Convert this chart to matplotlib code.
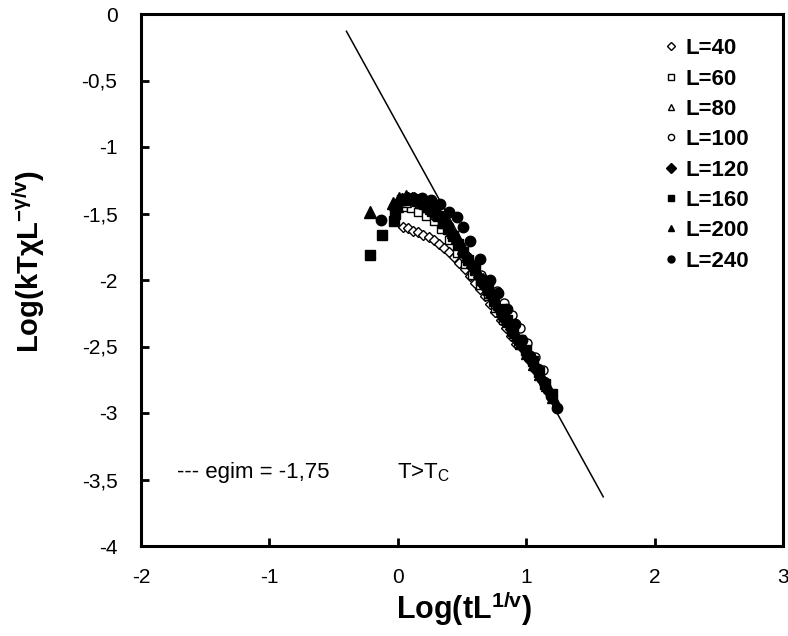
import matplotlib
matplotlib.use("Agg")
import matplotlib.pyplot as plt
from matplotlib.ticker import FixedLocator, FixedFormatter
from matplotlib.lines import Line2D

plt.rcParams['font.family'] = ['Liberation Sans', 'DejaVu Sans']
plt.rcParams['mathtext.fontset'] = 'custom'
plt.rcParams['mathtext.rm'] = 'Liberation Sans'
plt.rcParams['mathtext.it'] = 'Liberation Sans'
plt.rcParams['mathtext.bf'] = 'Liberation Sans:bold'

# ---------------- data ----------------
L40_x = [0.04, 0.08, 0.12, 0.16, 0.20, 0.24, 0.28, 0.32, 0.36, 0.40, 0.44, 0.48, 0.52, 0.56, 0.60, 0.64, 0.68, 0.72, 0.76, 0.80, 0.84, 0.88, 0.92]
L40_y = [-1.60, -1.61, -1.63, -1.64, -1.66, -1.68, -1.70, -1.73, -1.76, -1.79, -1.83, -1.87, -1.92, -1.97, -2.02, -2.07, -2.12, -2.18, -2.24, -2.30, -2.36, -2.42, -2.48]

L60_x = [-0.02, 0.04, 0.10, 0.16, 0.22, 0.28, 0.34, 0.40, 0.46, 0.52, 0.58, 0.64, 0.70, 0.76, 0.82, 0.88, 0.94, 1.00]
L60_y = [-1.50, -1.45, -1.46, -1.49, -1.52, -1.56, -1.62, -1.70, -1.80, -1.88, -1.96, -2.04, -2.12, -2.21, -2.30, -2.38, -2.47, -2.56]

L80_x = [0.00, 0.06, 0.12, 0.18, 0.24, 0.30, 0.36, 0.42, 0.48, 0.54, 0.60, 0.66, 0.72, 0.78, 0.84, 0.90, 0.96, 1.02, 1.08]
L80_y = [-1.45, -1.41, -1.40, -1.42, -1.45, -1.50, -1.57, -1.65, -1.74, -1.83, -1.92, -2.01, -2.10, -2.19, -2.28, -2.37, -2.46, -2.55, -2.64]

L100_x = [-0.01, 0.05, 0.11, 0.17, 0.23, 0.29, 0.35, 0.41, 0.47, 0.53, 0.59, 0.65, 0.71, 0.77, 0.83, 0.89, 0.95, 1.01, 1.07, 1.13]
L100_y = [-1.42, -1.39, -1.39, -1.41, -1.44, -1.49, -1.56, -1.64, -1.73, -1.82, -1.90, -1.96, -2.01, -2.08, -2.17, -2.26, -2.36, -2.47, -2.58, -2.68]

L120_x = [-0.02, 0.03, 0.08, 0.13, 0.18, 0.23, 0.28, 0.33, 0.38, 0.43, 0.48, 0.53, 0.58, 0.63, 0.68, 0.73, 0.78, 0.83, 0.88, 0.93, 0.98, 1.03, 1.08, 1.13, 1.18]
L120_y = [-1.45, -1.39, -1.38, -1.38, -1.40, -1.43, -1.47, -1.52, -1.58, -1.66, -1.74, -1.82, -1.90, -1.98, -2.05, -2.13, -2.21, -2.29, -2.37, -2.45, -2.52, -2.60, -2.68, -2.76, -2.84]

L160_x = [-0.22, -0.12, -0.03, -0.02, -0.01, 0.03, 0.07, 0.11, 0.15, 0.19, 0.23, 0.27, 0.31, 0.35, 0.39, 0.43, 0.47, 0.51, 0.55, 0.60, 0.65, 0.70, 0.75, 0.80, 0.85, 0.90, 0.95, 1.00, 1.05, 1.10, 1.15, 1.20]
L160_y = [-1.81, -1.66, -1.56, -1.50, -1.44, -1.40, -1.39, -1.39, -1.40, -1.42, -1.45, -1.48, -1.52, -1.57, -1.62, -1.67, -1.73, -1.79, -1.85, -1.92, -2.00, -2.07, -2.15, -2.22, -2.30, -2.38, -2.45, -2.53, -2.61, -2.69, -2.78, -2.86]

L200_x = [-0.22, -0.04, 0.01, 0.06, 0.11, 0.16, 0.21, 0.26, 0.31, 0.36, 0.41, 0.46, 0.51, 0.56, 0.61, 0.66, 0.71, 0.76, 0.81, 0.86, 0.91, 0.96, 1.01, 1.06, 1.11, 1.16, 1.21]
L200_y = [-1.49, -1.42, -1.38, -1.37, -1.38, -1.40, -1.42, -1.46, -1.50, -1.55, -1.61, -1.68, -1.76, -1.84, -1.92, -1.99, -2.07, -2.15, -2.23, -2.31, -2.39, -2.47, -2.55, -2.63, -2.71, -2.79, -2.88]

L240_x = [-0.13, -0.03, 0.05, 0.12, 0.19, 0.26, 0.33, 0.40, 0.46, 0.51, 0.56, 0.64, 0.72, 0.78, 0.85, 0.91, 0.97, 1.03, 1.09, 1.14, 1.19, 1.24]
L240_y = [-1.55, -1.45, -1.40, -1.38, -1.38, -1.40, -1.43, -1.49, -1.53, -1.60, -1.71, -1.84, -2.00, -2.10, -2.22, -2.33, -2.45, -2.57, -2.67, -2.77, -2.87, -2.96]

fit_x = [-0.40, 1.60]
fit_slope = -1.75
fit_intercept = -0.83

x_ticks = [-2, -1, 0, 1, 2, 3]
x_tick_labels = ["-2", "-1", "0", "1", "2", "3"]
y_ticks = [0, -0.5, -1, -1.5, -2, -2.5, -3, -3.5, -4]
y_tick_labels = ["0", "-0,5", "-1", "-1,5", "-2", "-2,5", "-3", "-3,5", "-4"]

# ---------------- figure ----------------
fig = plt.figure(figsize=(7.88, 6.36), dpi=100)
ax = fig.add_axes([141/788, 1 - 546/636, (783 - 141)/788, (546 - 14)/636])

fit_y = [fit_slope * v + fit_intercept for v in fit_x]
ax.plot(fit_x, fit_y, color='black', lw=1.1, zorder=1)

series = [
    ("L=40", L40_x, L40_y, 'D', 'white', 5.5),
    ("L=60", L60_x, L60_y, 's', 'white', 5.5),
    ("L=80", L80_x, L80_y, '^', 'white', 6.5),
    ("L=100", L100_x, L100_y, 'o', 'white', 6.5),
    ("L=120", L120_x, L120_y, 'D', 'black', 6.0),
    ("L=160", L160_x, L160_y, 's', 'black', 7.0),
    ("L=200", L200_x, L200_y, '^', 'black', 8.0),
    ("L=240", L240_x, L240_y, 'o', 'black', 7.5),
]
handles = []
for label, xs, ys, mk, fc, ms in series:
    ax.plot(xs, ys, linestyle='none', marker=mk, markersize=ms,
            markerfacecolor=fc, markeredgecolor='black', markeredgewidth=1.0, zorder=3)
    handles.append(Line2D([], [], linestyle='none', marker=mk,
                          markersize=5.0 if fc == 'black' else 4.5,
                          markerfacecolor=fc, markeredgecolor='black',
                          markeredgewidth=1.0, label=label))

ax.set_xlim(-2, 3)
ax.set_ylim(-4, 0)
ax.xaxis.set_major_locator(FixedLocator(x_ticks))
ax.xaxis.set_major_formatter(FixedFormatter(x_tick_labels))
ax.yaxis.set_major_locator(FixedLocator(y_ticks))
ax.yaxis.set_major_formatter(FixedFormatter(y_tick_labels))
ax.tick_params(direction='in', length=6, width=2, labelsize=15)
ax.tick_params(axis='x', pad=16)
ax.tick_params(axis='y', pad=17)
ax.tick_params(top=False, right=False)
for sp in ax.spines.values():
    sp.set_linewidth(2.2)

ax.set_xlabel(r"Log(tL$^{\mathbf{1/v}}$)", fontsize=22, fontweight='bold')
ax.set_ylabel(r"Log(kTχL$^{\mathbf{-γ/v}}$)", fontsize=21, fontweight='bold')
ax.xaxis.set_label_coords(0.503, -0.08)
ax.yaxis.set_label_coords(-0.146, 0.535)
ax.xaxis.label.set_va('top')

leg = ax.legend(handles=handles, loc='upper right', frameon=False,
                prop={'weight': 'bold', 'size': 16}, handlelength=0.8,
                handletextpad=0.25, labelspacing=0.42,
                bbox_to_anchor=(0.978, 0.992))

ax.text(-1.72, -3.45, "--- egim = -1,75", fontsize=16, va='center', ha='left')
ax.text(-0.01, -3.45, r"T>T$_\mathrm{C}$", fontsize=16, va='center', ha='left')

fig.savefig("out.png", dpi=100)
